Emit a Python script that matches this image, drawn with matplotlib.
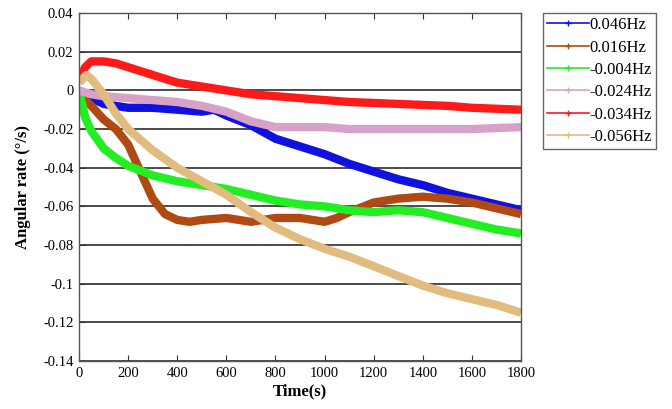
import matplotlib
matplotlib.use("Agg")
import matplotlib.pyplot as plt
import numpy as np

plt.rcParams['font.family'] = ['Liberation Serif', 'DejaVu Serif']

labels = ["0.046Hz", "0.016Hz", "-0.004Hz", "-0.024Hz", "-0.034Hz", "-0.056Hz"]
colors = ["#1010E0", "#B04A12", "#22EE22", "#D8A2C8", "#FF1A1A", "#E2BC7E"]

t_blue = [0, 50, 100, 200, 300, 400, 500, 550, 600, 700, 800, 900, 1000, 1100, 1200, 1300, 1400, 1500, 1600, 1700, 1800]
v_blue = [0.000, -0.004, -0.007, -0.009, -0.009, -0.010, -0.011, -0.010, -0.013, -0.018, -0.025, -0.029, -0.033, -0.038, -0.042, -0.046, -0.049, -0.053, -0.056, -0.059, -0.062]

t_brown = [0, 25, 50, 100, 150, 200, 250, 300, 350, 400, 450, 500, 600, 700, 800, 900, 1000, 1050, 1100, 1200, 1300, 1400, 1500, 1600, 1700, 1800]
v_brown = [0.000, -0.005, -0.008, -0.015, -0.020, -0.028, -0.042, -0.056, -0.064, -0.067, -0.068, -0.067, -0.066, -0.068, -0.066, -0.066, -0.068, -0.066, -0.063, -0.058, -0.056, -0.055, -0.056, -0.058, -0.061, -0.064]

t_green = [0, 25, 50, 100, 150, 200, 300, 400, 500, 600, 700, 800, 900, 1000, 1100, 1200, 1300, 1400, 1500, 1600, 1700, 1800]
v_green = [0.000, -0.014, -0.021, -0.030, -0.035, -0.039, -0.044, -0.047, -0.049, -0.051, -0.054, -0.057, -0.059, -0.060, -0.062, -0.063, -0.062, -0.063, -0.066, -0.069, -0.072, -0.074]

t_pink = [0, 50, 100, 200, 300, 400, 500, 600, 700, 800, 900, 1000, 1100, 1200, 1300, 1400, 1500, 1600, 1700, 1800]
v_pink = [0.000, -0.002, -0.003, -0.004, -0.005, -0.006, -0.008, -0.011, -0.016, -0.019, -0.019, -0.019, -0.020, -0.020, -0.020, -0.020, -0.020, -0.020, -0.0195, -0.019]

t_red = [0, 25, 50, 100, 150, 200, 300, 400, 500, 600, 700, 800, 900, 1000, 1100, 1200, 1300, 1400, 1500, 1600, 1700, 1800]
v_red = [0.005, 0.012, 0.015, 0.015, 0.014, 0.012, 0.008, 0.004, 0.002, 0.000, -0.002, -0.003, -0.004, -0.005, -0.006, -0.0065, -0.007, -0.0075, -0.008, -0.009, -0.0095, -0.010]

t_tan = [0, 30, 50, 100, 150, 200, 300, 400, 500, 600, 700, 800, 900, 1000, 1100, 1200, 1300, 1400, 1500, 1600, 1700, 1800]
v_tan = [0.004, 0.008, 0.006, -0.002, -0.012, -0.020, -0.031, -0.040, -0.047, -0.054, -0.063, -0.071, -0.077, -0.082, -0.086, -0.091, -0.096, -0.101, -0.105, -0.108, -0.111, -0.115]

series = [(t_blue, v_blue), (t_brown, v_brown), (t_green, v_green),
          (t_pink, v_pink), (t_red, v_red), (t_tan, v_tan)]

xticks = [0, 200, 400, 600, 800, 1000, 1200, 1400, 1600, 1800]
yticks = [0.04, 0.02, 0, -0.02, -0.04, -0.06, -0.08, -0.1, -0.12, -0.14]
ytick_labels = ["0.04", "0.02", "0", "-0.02", "-0.04", "-0.06", "-0.08", "-0.1", "-0.12", "-0.14"]

fig = plt.figure(figsize=(6.72, 4.09), dpi=100)
ax = fig.add_axes([0.1176, 0.1174, 0.6577, 0.8506])

for yv in yticks:
    ax.axhline(yv, color="#1a1a1a", lw=1.1, zorder=1)

handles = []
for (t, v), c, lab in zip(series, colors, labels):
    ax.plot(t, v, color=c, lw=6, solid_capstyle='butt', zorder=2)
    h, = ax.plot([], [], color=c, lw=1.2, marker='+', markersize=4, label=lab)
    handles.append(h)

ax.set_xlim(0, 1800)
ax.set_ylim(-0.14, 0.04)
ax.set_xticks(xticks)
ax.set_xticklabels([str(x) for x in xticks], fontsize=10.5)
ax.set_yticks(yticks)
ax.set_yticklabels(ytick_labels, fontsize=10.5)
ax.tick_params(direction='in', top=True, right=False, length=4, color="#333333", pad=4)
for s in ax.spines.values():
    s.set_color("#555555")
    s.set_linewidth(1.0)

ax.set_xlabel("Time(s)", fontsize=12, fontweight='bold', labelpad=3)
ax.set_ylabel("Angular rate (°/s)", fontsize=12, fontweight='bold')
ax.yaxis.set_label_coords(-0.108, 0.5)

leg = ax.legend(handles=handles, loc='upper left', bbox_to_anchor=(1.05, 1.0),
                fontsize=12, frameon=True, fancybox=False, edgecolor="#444444",
                handlelength=2.5, borderpad=0.25, labelspacing=0.38, handletextpad=0.05,
                borderaxespad=0.0)
leg.get_frame().set_linewidth(1.0)

fig.savefig("out.png", dpi=100)
